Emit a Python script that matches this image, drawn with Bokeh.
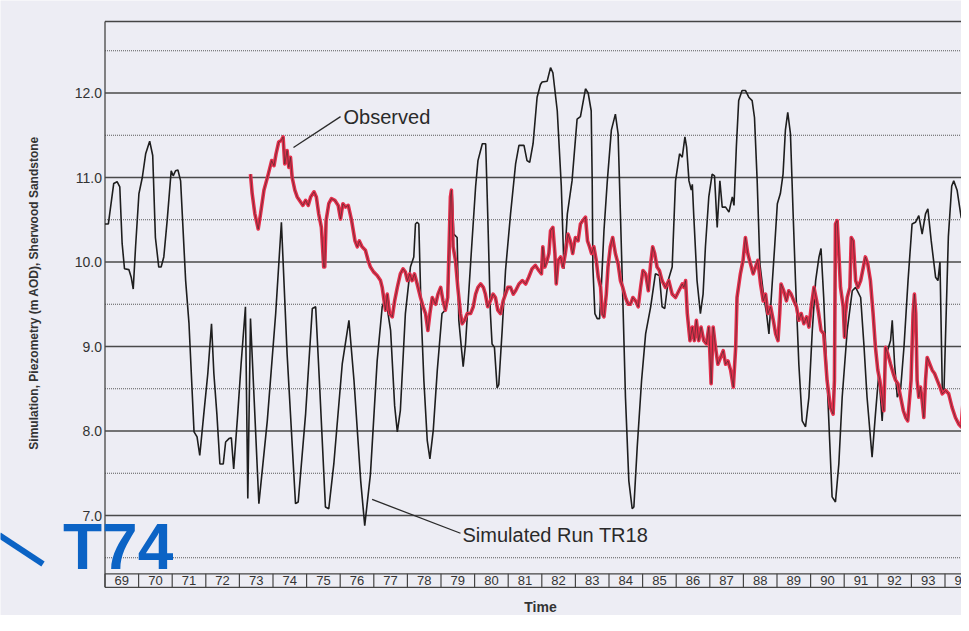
import math
from bokeh.plotting import figure
from bokeh.core.properties import value
from bokeh.embed import file_html
from bokeh.resources import INLINE

# ---- data ----
sim_t = [69.00, 69.10, 69.26, 69.36, 69.44, 69.51, 69.58, 69.71, 69.78, 69.84, 69.91, 70.01, 70.11, 70.21,
         70.33, 70.42, 70.50, 70.60, 70.67, 70.75, 70.85, 70.97, 71.03, 71.10, 71.17, 71.25, 71.40, 71.50,
         71.65, 71.74, 71.82, 71.94, 72.06, 72.17, 72.24, 72.33, 72.42, 72.52, 72.59, 72.69, 72.76, 72.83,
         72.95, 73.05, 73.18, 73.25, 73.33, 73.58, 73.83, 74.08, 74.25, 74.42, 74.67, 74.75, 74.97, 75.17,
         75.27, 75.38, 75.56, 75.66, 75.81, 76.06, 76.26, 76.41, 76.61, 76.73, 76.90, 77.10, 77.25, 77.35,
         77.50, 77.62, 77.70, 77.79, 77.94, 78.09, 78.19, 78.24, 78.29, 78.34, 78.41, 78.49, 78.59, 78.67,
         78.77, 78.89, 79.03, 79.13, 79.23, 79.33, 79.38, 79.48, 79.53, 79.66, 79.73, 79.88, 80.03, 80.10,
         80.23, 80.33, 80.39, 80.47, 80.52, 80.59, 80.67, 80.72, 80.82, 80.92, 81.07, 81.22, 81.32, 81.47,
         81.56, 81.64, 81.74, 81.86, 81.96, 82.01, 82.16, 82.26, 82.33, 82.46, 82.58, 82.66, 82.76, 82.90,
         83.05, 83.15, 83.30, 83.38, 83.47, 83.50, 83.52, 83.58, 83.65, 83.72, 83.78, 83.85, 83.95, 84.07,
         84.19, 84.27, 84.34, 84.41, 84.49, 84.59, 84.69, 84.74, 84.84, 84.97, 85.09, 85.24, 85.38, 85.50,
         85.58, 85.66, 85.76, 85.88, 85.98, 86.10, 86.18, 86.26, 86.31, 86.38, 86.45, 86.48, 86.52, 86.62,
         86.72, 86.80, 86.87, 86.97, 87.07, 87.14, 87.22, 87.30, 87.37, 87.47, 87.57, 87.67, 87.72, 87.79,
         87.86, 87.96, 88.06, 88.16, 88.26, 88.33, 88.41, 88.49, 88.61, 88.69, 88.76, 88.83, 88.93, 89.01,
         89.10, 89.18, 89.25, 89.32, 89.40, 89.48, 89.55, 89.65, 89.75, 89.85, 89.95, 90.05, 90.15, 90.25,
         90.31, 90.39, 90.49, 90.64, 90.74, 90.84, 90.94, 91.09, 91.24, 91.34, 91.49, 91.59, 91.68, 91.83,
         91.93, 92.03, 92.13, 92.23, 92.38, 92.43, 92.50, 92.58, 92.68, 92.78, 92.90, 93.02, 93.12, 93.22,
         93.32, 93.42, 93.49, 93.59, 93.72, 93.79, 93.85, 93.92, 93.97, 94.10, 94.20, 94.26, 94.36, 94.48,
         94.58, 94.73]
sim_v = [10.45, 10.45, 10.93, 10.95, 10.89, 10.22, 9.92, 9.91, 9.82, 9.68, 10.18, 10.81, 11.00, 11.28,
         11.43, 11.26, 10.29, 9.94, 9.94, 10.06, 10.49, 11.08, 11.02, 11.08, 11.09, 10.96, 9.78, 9.27,
         7.99, 7.93, 7.71, 8.20, 8.68, 9.27, 8.68, 8.20, 7.61, 7.61, 7.87, 7.91, 7.92, 7.55,
         8.20, 8.79, 9.47, 7.20, 9.33, 7.14, 8.12, 9.39, 10.47, 8.91, 7.14, 7.16, 8.20, 9.45,
         9.47, 8.60, 7.10, 7.08, 7.61, 8.79, 9.31, 8.60, 7.41, 6.88, 7.49, 8.83, 9.47, 9.58,
         9.19, 8.30, 7.99, 8.24, 9.39, 9.94, 10.06, 10.45, 10.47, 10.45, 9.39, 8.60, 7.89, 7.67,
         8.01, 8.72, 9.39, 9.43, 9.78, 10.85, 10.33, 10.29, 9.31, 8.76, 9.03, 9.98, 10.89, 11.20,
         11.40, 11.40, 10.57, 9.39, 9.03, 8.99, 8.51, 8.55, 9.19, 9.90, 10.57, 11.16, 11.38, 11.38,
         11.20, 11.18, 11.40, 11.95, 12.10, 12.13, 12.14, 12.30, 12.24, 11.79, 10.90, 9.92, 10.57, 10.96,
         11.69, 11.72, 12.05, 12.00, 11.79, 10.96, 9.94, 9.39, 9.33, 9.33, 9.78, 10.37, 10.96, 11.56,
         11.75, 11.52, 10.57, 9.58, 8.40, 7.41, 7.08, 7.10, 7.81, 8.60, 9.15, 9.47, 9.86, 9.84,
         9.47, 9.45, 9.78, 9.94, 10.96, 11.28, 11.24, 11.48, 11.36, 10.96, 10.85, 10.92, 10.57, 9.78,
         9.39, 9.62, 10.18, 10.77, 11.04, 11.02, 10.41, 10.96, 10.65, 10.65, 10.59, 10.77, 10.67, 11.36,
         11.91, 12.03, 12.03, 11.95, 11.91, 11.71, 10.96, 9.98, 9.58, 9.39, 9.15, 9.58, 10.18, 10.69,
         10.81, 11.04, 11.56, 11.77, 11.52, 10.57, 9.78, 8.79, 8.12, 8.05, 8.40, 9.19, 9.78, 10.06,
         10.16, 9.58, 8.60, 7.22, 7.16, 7.61, 8.40, 9.19, 9.66, 9.70, 9.58, 9.00, 8.40, 7.69,
         8.20, 8.68, 8.12, 8.87, 9.07, 9.31, 8.79, 8.40, 8.50, 9.00, 9.78, 10.45, 10.47, 10.55,
         10.33, 10.57, 10.63, 10.25, 9.82, 9.78, 10.00, 8.48, 8.48, 10.30, 10.90, 10.96, 10.85, 10.53,
         10.45, 10.43]

obs_t = [73.33, 73.38, 73.46, 73.56, 73.63, 73.73, 73.86, 73.96, 74.03, 74.09, 74.17, 74.25, 74.30, 74.35,
         74.42, 74.47, 74.52, 74.57, 74.65, 74.72, 74.82, 74.89, 74.97, 75.05, 75.12, 75.22, 75.29, 75.36,
         75.44, 75.51, 75.54, 75.58, 75.66, 75.74, 75.84, 75.94, 76.01, 76.08, 76.16, 76.24, 76.34, 76.44,
         76.51, 76.57, 76.65, 76.75, 76.83, 76.90, 77.00, 77.10, 77.20, 77.25, 77.30, 77.35, 77.40, 77.47,
         77.55, 77.62, 77.70, 77.79, 77.87, 77.94, 78.00, 78.07, 78.14, 78.21, 78.29, 78.39, 78.47, 78.54,
         78.61, 78.67, 78.74, 78.84, 78.91, 78.99, 79.06, 79.13, 79.20, 79.28, 79.31, 79.36, 79.43, 79.50,
         79.58, 79.63, 79.70, 79.78, 79.88, 79.96, 80.03, 80.10, 80.18, 80.26, 80.32, 80.39, 80.47, 80.55,
         80.62, 80.69, 80.77, 80.85, 80.92, 80.99, 81.07, 81.15, 81.22, 81.32, 81.42, 81.52, 81.61, 81.71,
         81.81, 81.91, 81.99, 82.03, 82.09, 82.16, 82.21, 82.26, 82.33, 82.39, 82.43, 82.49, 82.56, 82.63,
         82.70, 82.78, 82.85, 82.92, 83.00, 83.08, 83.15, 83.22, 83.30, 83.36, 83.42, 83.48, 83.55, 83.62,
         83.68, 83.75, 83.80, 83.85, 83.92, 83.97, 84.04, 84.11, 84.19, 84.27, 84.34, 84.41, 84.49, 84.57,
         84.64, 84.71, 84.79, 84.87, 84.94, 85.01, 85.09, 85.17, 85.24, 85.30, 85.36, 85.43, 85.50, 85.58,
         85.68, 85.78, 85.88, 85.98, 86.08, 86.18, 86.23, 86.28, 86.33, 86.41, 86.48, 86.54, 86.60, 86.67,
         86.74, 86.82, 86.90, 86.97, 87.04, 87.10, 87.17, 87.24, 87.32, 87.40, 87.47, 87.54, 87.62, 87.70,
         87.77, 87.81, 87.91, 87.99, 88.06, 88.13, 88.21, 88.29, 88.36, 88.43, 88.51, 88.59, 88.66, 88.73,
         88.81, 88.89, 88.96, 89.03, 89.08, 89.12, 89.20, 89.28, 89.35, 89.42, 89.50, 89.58, 89.65, 89.72,
         89.80, 89.88, 89.95, 90.02, 90.10, 90.18, 90.24, 90.31, 90.39, 90.49, 90.59, 90.67, 90.71, 90.74,
         90.79, 90.84, 90.89, 90.97, 91.01, 91.04, 91.09, 91.17, 91.21, 91.27, 91.34, 91.41, 91.49, 91.57,
         91.63, 91.70, 91.78, 91.86, 91.93, 92.00, 92.06, 92.13, 92.18, 92.23, 92.30, 92.38, 92.46, 92.53,
         92.60, 92.68, 92.76, 92.83, 92.89, 92.95, 92.99, 93.05, 93.09, 93.13, 93.17, 93.22, 93.27, 93.32,
         93.37, 93.42, 93.47, 93.55, 93.62, 93.69, 93.77, 93.85, 93.92, 94.02, 94.11, 94.21, 94.31, 94.41,
         94.48, 94.54, 94.58, 94.66, 94.73]
obs_v = [11.04, 10.81, 10.57, 10.39, 10.57, 10.85, 11.04, 11.20, 11.14, 11.28, 11.42, 11.44, 11.48, 11.16,
         11.32, 11.12, 11.24, 11.00, 10.85, 10.77, 10.71, 10.67, 10.73, 10.67, 10.77, 10.83, 10.77, 10.57,
         10.41, 9.94, 9.94, 10.49, 10.69, 10.75, 10.73, 10.67, 10.51, 10.69, 10.65, 10.67, 10.49, 10.25,
         10.18, 10.25, 10.18, 10.14, 10.02, 9.94, 9.88, 9.84, 9.78, 9.70, 9.56, 9.43, 9.62, 9.39,
         9.35, 9.54, 9.70, 9.86, 9.92, 9.88, 9.78, 9.86, 9.78, 9.86, 9.74, 9.58, 9.47, 9.39,
         9.19, 9.39, 9.58, 9.50, 9.62, 9.70, 9.54, 9.43, 9.58, 10.77, 10.85, 10.18, 10.02, 9.70,
         9.39, 9.27, 9.31, 9.39, 9.39, 9.47, 9.62, 9.70, 9.74, 9.70, 9.62, 9.47, 9.54, 9.62,
         9.58, 9.43, 9.39, 9.54, 9.62, 9.70, 9.70, 9.62, 9.66, 9.74, 9.78, 9.74, 9.82, 9.92,
         9.96, 9.90, 9.86, 10.18, 9.94, 10.02, 10.10, 10.37, 10.41, 10.10, 9.74, 10.02, 10.06, 9.94,
         10.10, 10.33, 10.25, 10.10, 10.29, 10.25, 10.45, 10.49, 10.53, 10.25, 10.18, 10.10, 10.18, 10.02,
         9.82, 9.70, 9.39, 9.35, 9.62, 9.94, 10.18, 10.29, 10.10, 9.98, 9.78, 9.70, 9.58, 9.50,
         9.50, 9.58, 9.54, 9.47, 9.70, 9.90, 9.86, 9.66, 9.98, 10.18, 10.10, 9.94, 9.90, 9.78,
         9.70, 9.78, 9.62, 9.58, 9.66, 9.74, 9.70, 9.78, 9.39, 9.07, 9.23, 9.07, 9.31, 9.07,
         9.23, 9.07, 9.03, 9.23, 8.56, 9.23, 8.99, 8.79, 8.87, 8.95, 8.79, 8.83, 8.72, 8.52,
         8.99, 9.58, 9.86, 10.02, 10.29, 10.10, 9.98, 9.86, 9.94, 10.02, 9.74, 9.54, 9.62, 9.39,
         9.47, 9.31, 9.15, 9.07, 9.39, 9.74, 9.66, 9.54, 9.66, 9.62, 9.54, 9.47, 9.31, 9.39,
         9.27, 9.35, 9.23, 9.47, 9.70, 9.54, 9.39, 9.19, 9.15, 8.60, 8.28, 8.20, 8.60, 10.45,
         10.49, 10.10, 9.70, 9.47, 9.11, 9.39, 9.58, 9.70, 10.29, 10.25, 9.78, 9.70, 9.78, 9.94,
         10.06, 9.98, 9.78, 9.39, 8.99, 8.72, 8.60, 8.40, 8.24, 8.99, 8.91, 8.79, 8.68, 8.60,
         8.56, 8.40, 8.24, 8.16, 8.12, 8.40, 8.60, 9.39, 9.62, 9.39, 8.60, 8.40, 8.52, 8.36,
         8.16, 8.60, 8.87, 8.79, 8.72, 8.68, 8.60, 8.52, 8.44, 8.48, 8.44, 8.28, 8.16, 8.08,
         8.05, 8.36, 8.79, 8.87, 8.75]

y_major = [7, 8, 9, 10, 11, 12]
y_minor = [6.5, 7.5, 8.5, 9.5, 10.5, 11.5, 12.5]
y_tick_labels = ["7.0", "8.0", "9.0", "10.0", "11.0", "12.0"]
years = list(range(69, 95))
year_labels = [str(y) for y in years]

FONT = "Liberation Sans"
BG = "#ededf4"
INK = "#333333"
FRAME = "#454545"

# plotting frame (data units) and page-wide ranges
X0, X1 = 69.0, 94.49          # chart frame left / visible right
Y0, Y1 = 6.15, 12.846          # chart frame bottom / top
BOX_TOP = 6.31                 # top of year-box row
PX_X = 33.6                    # pixels per year
PX_Y = 84.5                    # pixels per unit

W, H = 961, 615
p = figure(width=W, height=H,
           x_range=(X0 - 104.5 / PX_X, X0 + (W - 104.5) / PX_X),
           y_range=(12 - (H - 92.5) / PX_Y, 12 + 92.5 / PX_Y),
           output_backend="svg", toolbar_location=None,
           min_border=0, min_border_left=0, min_border_right=0, min_border_top=0, min_border_bottom=0)
p.background_fill_color = BG
p.border_fill_color = BG
p.outline_line_color = None
p.axis.visible = False
p.grid.visible = False

# gridlines
p.segment(x0=[X0] * len(y_major), y0=y_major, x1=[X1 + 1] * len(y_major), y1=y_major,
          line_color="#4a4a4a", line_width=1.3)
p.segment(x0=[X0] * len(y_minor), y0=y_minor, x1=[X1 + 1] * len(y_minor), y1=y_minor,
          line_color="#5a5a5a", line_width=1.2, line_dash="1 1")

# frame
p.segment(x0=[X0, X0, X0, X0], y0=[Y0, Y1, Y0, BOX_TOP], x1=[X0, X1 + 1, X1 + 1, X1 + 1],
          y1=[Y1, Y1, Y0, BOX_TOP], line_color=FRAME, line_width=1.3)

# year boxes
p.segment(x0=years, y0=[Y0] * len(years), x1=years, y1=[BOX_TOP] * len(years),
          line_color=FRAME, line_width=1.2)
p.text(x=[y + 0.5 for y in years], y=[(Y0 + BOX_TOP) / 2] * len(years), text=year_labels,
       text_font=value(FONT), text_font_size="13px", text_color=INK,
       text_align="center", text_baseline="middle")

# y tick labels
p.text(x=[X0 - 3 / PX_X] * len(y_major), y=y_major, text=y_tick_labels,
       text_font=value(FONT), text_font_size="14px", text_color=INK,
       text_align="right", text_baseline="middle")

# y axis title
p.text(x=[X0 - 71 / PX_X], y=[12 - 200 / PX_Y], text=["Simulation, Piezometry (m AOD), Sherwood Sandstone"],
       angle=math.pi / 2, text_font=value(FONT), text_font_size="12px", text_font_style="bold",
       text_color=INK, text_align="center", text_baseline="middle")

# x axis title
p.text(x=[X0 + 435.5 / PX_X], y=[12 - 514 / PX_Y], text=["Time"],
       text_font=value(FONT), text_font_size="14px", text_font_style="bold",
       text_color=INK, text_align="center", text_baseline="middle")

# series
p.line(sim_t, sim_v, line_color="#1e1e1e", line_width=1.6)
p.line(obs_t, obs_v, line_color="#e5304d", line_width=3.6, line_join="round")
p.line(obs_t, obs_v, line_color="#3a2a2a", line_width=0.8, line_alpha=0.75)

# annotations
p.segment(x0=[74.61], y0=[11.355], x1=[76.01], y1=[11.72], line_color="#2a2a2a", line_width=1.3)
p.text(x=[76.1], y=[11.72], text=["Observed"], text_font=value(FONT), text_font_size="20px",
       text_color="#2a2a2a", text_baseline="middle")
p.segment(x0=[76.95], y0=[7.19], x1=[79.58], y1=[6.79], line_color="#2a2a2a", line_width=1.3)
p.text(x=[79.64], y=[6.77], text=["Simulated Run TR18"], text_font=value(FONT), text_font_size="20px",
       text_color="#2a2a2a", text_baseline="middle")

# blue overlay marker
p.segment(x0=[X0 - 106 / PX_X], y0=[12 - 442 / PX_Y], x1=[X0 - 62 / PX_X], y1=[12 - 471 / PX_Y],
          line_color="#0b63c5", line_width=6)
p.text(x=[X0 - 42 / PX_X], y=[12 - 453.5 / PX_Y], text=["T74"],
       text_font=value(FONT), text_font_size="64px", text_font_style="bold",
       text_color="#0b63c5", text_baseline="alphabetic")

open("out.html", "w").write(file_html(p, INLINE))
